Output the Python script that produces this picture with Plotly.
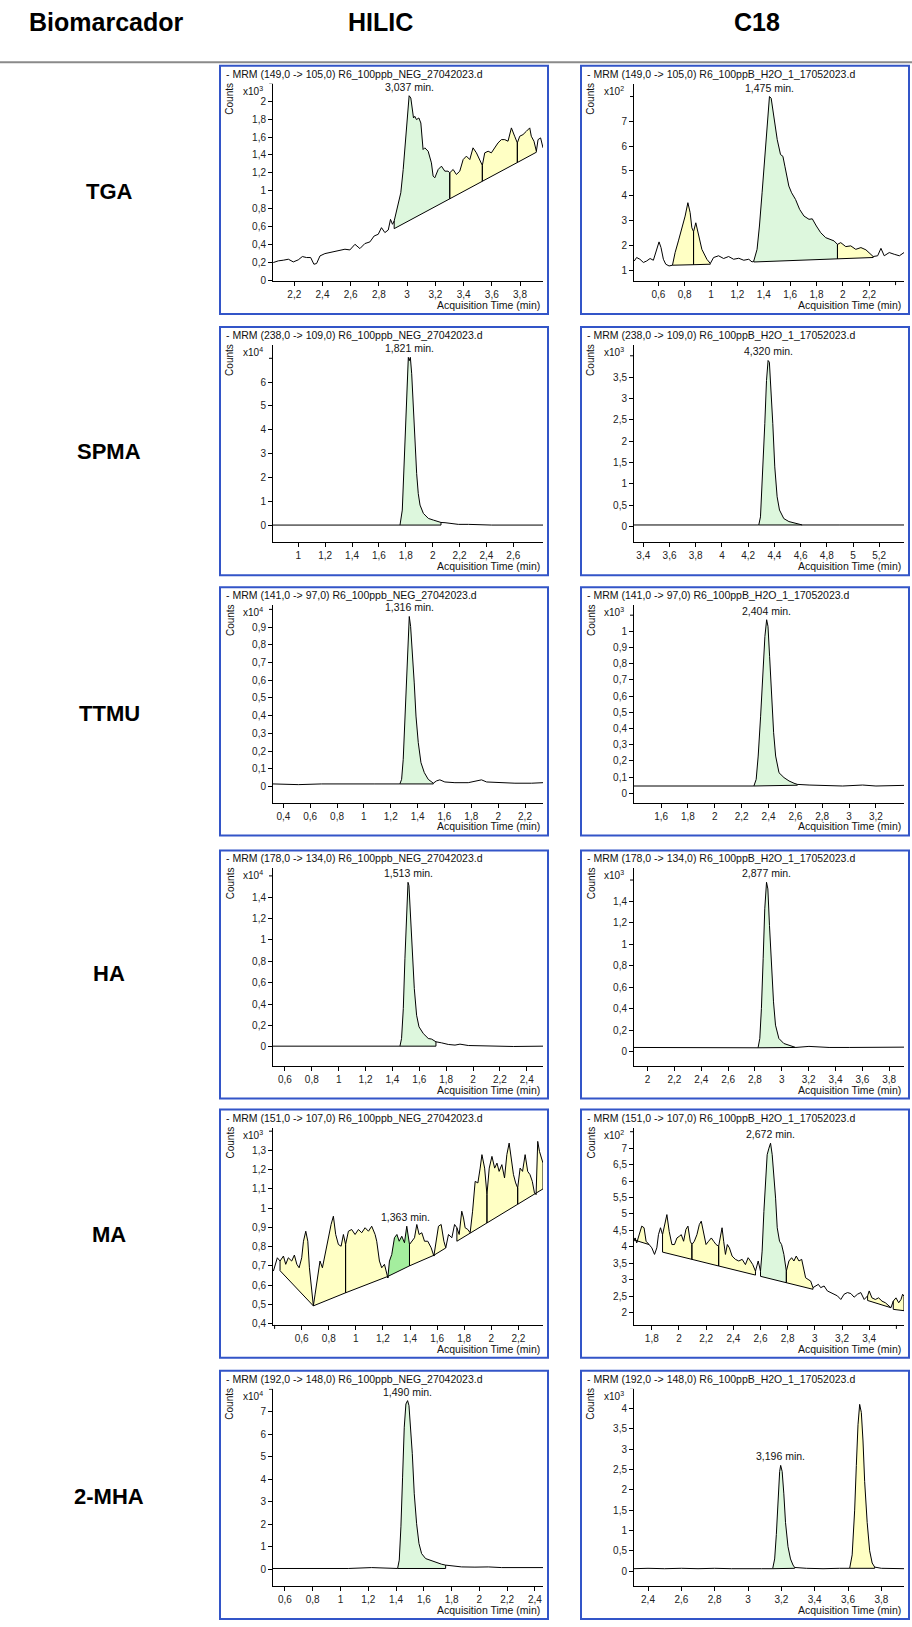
import plotly.graph_objects as go

W, H = 912, 1627

# ---------------- text content ----------------
header_texts = ["Biomarcador", "HILIC", "C18"]
biomarkers = ["TGA", "SPMA", "TTMU", "HA", "MA", "2-MHA"]
transitions = ["149,0 -> 105,0", "238,0 -> 109,0", "141,0 -> 97,0",
               "178,0 -> 134,0", "151,0 -> 107,0", "192,0 -> 148,0"]
files = ["R6_100ppb_NEG_27042023.d", "R6_100ppB_H2O_1_17052023.d"]
exponents = ["3", "2", "4", "3", "4", "3", "4", "3", "3", "2", "4", "3"]
peak_labels = ["3,037 min.", "1,475 min.", "1,821 min.", "4,320 min.", "1,316 min.", "2,404 min.",
               "1,513 min.", "2,877 min.", "1,363 min.", "2,672 min.", "1,490 min.", "3,196 min."]
peak_t = [3.014, 1.443, 1.826, 4.352, 1.338, 2.386, 1.516, 2.886, 1.363, 2.674, 1.483, 3.196]
peak_y = [2.063, 8.00, 7.04, 3.89, 0.960, 1.072, 1.540, 1.579, 0.906, 7.15, 7.49, 2.60]

# ---------------- chromatogram data (time min, counts x10^n) ----------------
tga_hilic_t = [2.051, 2.087, 2.122, 2.158, 2.193, 2.228, 2.257, 2.287, 2.316, 2.339,
               2.358, 2.382, 2.417, 2.453, 2.488, 2.523, 2.559, 2.594, 2.630, 2.665,
               2.700, 2.736, 2.766, 2.795, 2.818, 2.842, 2.866, 2.882, 2.896, 2.908,
               2.925, 2.936, 2.955, 2.972, 2.988, 3.002, 3.014, 3.026, 3.035, 3.045,
               3.054, 3.066, 3.083, 3.097, 3.113, 3.125, 3.149, 3.172, 3.184, 3.196,
               3.220, 3.243, 3.267, 3.290, 3.302, 3.326, 3.349, 3.373, 3.397, 3.420,
               3.444, 3.467, 3.491, 3.515, 3.533, 3.550, 3.574, 3.597, 3.621, 3.644,
               3.668, 3.692, 3.715, 3.739, 3.762, 3.781, 3.798, 3.821, 3.845, 3.869,
               3.880, 3.899, 3.916, 3.928, 3.946, 3.963]
tga_hilic_y = [0.197, 0.216, 0.223, 0.234, 0.204, 0.227, 0.264, 0.253, 0.253, 0.178,
               0.186, 0.271, 0.297, 0.309, 0.316, 0.327, 0.346, 0.338, 0.401, 0.353,
               0.409, 0.428, 0.494, 0.513, 0.587, 0.532, 0.561, 0.680, 0.625, 0.662,
               0.773, 0.829, 0.978, 1.238, 1.535, 1.833, 2.063, 2.037, 1.944, 1.814,
               1.833, 1.796, 1.814, 1.758, 1.461, 1.480, 1.442, 1.312, 1.164, 1.145,
               1.238, 1.275, 1.219, 1.219, 1.201, 1.238, 1.182, 1.219, 1.349, 1.387,
               1.349, 1.480, 1.424, 1.349, 1.283, 1.424, 1.442, 1.424, 1.480, 1.535,
               1.572, 1.572, 1.554, 1.703, 1.610, 1.535, 1.610, 1.628, 1.665, 1.703,
               1.610, 1.554, 1.442, 1.572, 1.591, 1.480]
tga_hilic_regions = [(2.908, 3.302, 0.576, 0.910, "g"), (3.302, 3.533, 0.910, 1.106, "y"),
                     (3.533, 3.781, 1.106, 1.316, "y"), (3.781, 3.916, 1.316, 1.431, "y")]

tga_c18_t = [0.417, 0.435, 0.460, 0.486, 0.511, 0.537, 0.562, 0.587, 0.605, 0.620,
             0.638, 0.656, 0.681, 0.707, 0.727, 0.752, 0.778, 0.803, 0.824, 0.841,
             0.854, 0.867, 0.884, 0.897, 0.930, 0.968, 0.994, 1.019, 1.057, 1.095,
             1.133, 1.171, 1.210, 1.248, 1.286, 1.311, 1.324, 1.349, 1.367, 1.387,
             1.408, 1.425, 1.443, 1.456, 1.476, 1.502, 1.527, 1.545, 1.560, 1.590,
             1.611, 1.641, 1.672, 1.705, 1.743, 1.768, 1.799, 1.832, 1.870, 1.908,
             1.933, 1.959, 1.984, 2.022, 2.060, 2.098, 2.137, 2.175, 2.213, 2.230,
             2.264, 2.289, 2.314, 2.352, 2.390, 2.429, 2.464]
tga_c18_y = [1.37, 1.51, 1.44, 1.31, 1.37, 1.47, 1.40, 1.78, 2.14, 1.91,
             1.44, 1.24, 1.17, 1.20, 1.71, 2.18, 2.65, 3.18, 3.72, 3.32,
             2.71, 2.55, 2.91, 2.60, 1.84, 1.44, 1.27, 1.51, 1.58, 1.47,
             1.55, 1.44, 1.48, 1.40, 1.44, 1.33, 1.37, 1.84, 2.78, 4.12,
             5.46, 6.80, 8.00, 7.93, 7.20, 6.26, 5.66, 5.59, 5.19, 4.39,
             4.12, 3.85, 3.45, 3.18, 3.05, 3.07, 2.78, 2.51, 2.31, 2.24,
             2.18, 2.04, 2.11, 1.95, 1.98, 1.84, 1.91, 1.82, 1.64, 1.55,
             1.58, 1.88, 1.58, 1.71, 1.64, 1.58, 1.71]
tga_c18_regions = [(0.707, 0.867, 1.20, 1.22, "y"), (0.867, 0.994, 1.22, 1.24, "y"),
                   (1.324, 1.959, 1.33, 1.457, "g"), (1.959, 2.230, 1.457, 1.51, "y")]

spma_hilic_t = [0.812, 1.200, 1.500, 1.757, 1.774, 1.789, 1.801, 1.811, 1.819, 1.826,
                1.834, 1.844, 1.856, 1.868, 1.881, 1.893, 1.906, 1.931, 1.968, 2.005,
                2.042, 2.062, 2.092, 2.141, 2.191, 2.266, 2.340, 2.377, 2.439, 2.821]
spma_hilic_y = [0.0, 0.0, 0.0, 0.0, 0.63, 2.86, 4.95, 6.62, 7.04, 6.90,
                7.04, 6.35, 4.81, 3.14, 2.16, 1.32, 0.84, 0.49, 0.28, 0.21,
                0.14, 0.11, 0.10, 0.07, 0.03, 0.03, 0.01, 0.03, 0.0, 0.0]
spma_hilic_regions = [(1.757, 2.062, 0.0, 0.0, "g")]

spma_c18_t = [3.329, 3.700, 4.000, 4.281, 4.294, 4.311, 4.327, 4.340, 4.352, 4.362,
              4.373, 4.388, 4.403, 4.421, 4.439, 4.472, 4.511, 4.562, 4.613, 4.900, 5.389]
spma_c18_y = [0.04, 0.04, 0.04, 0.04, 0.23, 1.24, 2.41, 3.42, 3.89, 3.85,
              3.34, 2.41, 1.40, 0.70, 0.39, 0.19, 0.12, 0.08, 0.04, 0.04, 0.04]
spma_c18_regions = [(4.281, 4.613, 0.04, 0.04, "g")]

ttmu_hilic_t = [0.323, 0.512, 0.685, 0.884, 1.082, 1.268, 1.281, 1.293, 1.306, 1.318,
                1.331, 1.338, 1.348, 1.360, 1.375, 1.388, 1.405, 1.425, 1.450, 1.479,
                1.517, 1.541, 1.566, 1.603, 1.678, 1.777, 1.852, 1.876, 1.914, 2.000,
                2.125, 2.249, 2.334]
ttmu_hilic_y = [0.015, 0.011, 0.015, 0.013, 0.015, 0.015, 0.041, 0.154, 0.398, 0.679,
                0.923, 0.960, 0.904, 0.773, 0.585, 0.398, 0.248, 0.135, 0.079, 0.041,
                0.019, 0.032, 0.038, 0.026, 0.022, 0.022, 0.032, 0.038, 0.026, 0.022,
                0.019, 0.019, 0.022]
ttmu_hilic_regions = [(1.268, 1.517, 0.015, 0.015, "g")]

ttmu_c18_t = [1.398, 1.705, 1.954, 2.129, 2.291, 2.308, 2.323, 2.341, 2.358, 2.373,
              2.386, 2.396, 2.408, 2.423, 2.438, 2.453, 2.478, 2.515, 2.553, 2.590,
              2.615, 2.702, 2.852, 2.952, 3.101, 3.200, 3.409]
ttmu_c18_y = [0.045, 0.045, 0.043, 0.041, 0.045, 0.086, 0.230, 0.476, 0.764, 0.969,
              1.072, 1.031, 0.846, 0.600, 0.374, 0.230, 0.127, 0.097, 0.076, 0.062,
              0.055, 0.051, 0.049, 0.045, 0.051, 0.045, 0.049]
ttmu_c18_regions = [(2.291, 2.615, 0.045, 0.050, "g")]

ha_hilic_t = [0.511, 1.071, 1.456, 1.468, 1.481, 1.493, 1.506, 1.516, 1.523, 1.533,
              1.548, 1.563, 1.580, 1.598, 1.630, 1.667, 1.692, 1.724, 1.766, 1.816,
              1.866, 1.903, 1.965, 2.114, 2.275, 2.300, 2.521]
ha_hilic_y = [0.006, 0.006, 0.006, 0.078, 0.358, 0.824, 1.291, 1.540, 1.509, 1.291,
              0.887, 0.545, 0.296, 0.187, 0.124, 0.078, 0.072, 0.047, 0.037, 0.022,
              0.016, 0.025, 0.012, 0.009, 0.009, 0.003, 0.006]
ha_hilic_regions = [(1.456, 1.724, 0.006, 0.006, "g")]

ha_c18_t = [1.899, 2.205, 2.504, 2.823, 2.836, 2.848, 2.861, 2.873, 2.886, 2.896,
            2.908, 2.923, 2.938, 2.953, 2.978, 3.015, 3.065, 3.103, 3.202, 3.352,
            3.502, 3.701, 3.910]
ha_c18_y = [0.040, 0.037, 0.040, 0.037, 0.124, 0.403, 0.867, 1.332, 1.579, 1.517,
            1.177, 0.774, 0.465, 0.248, 0.124, 0.077, 0.056, 0.040, 0.050, 0.040,
            0.040, 0.043, 0.043]
ha_c18_regions = [(2.823, 3.103, 0.037, 0.040, "g")]

ma_hilic_t = [0.391, 0.403, 0.420, 0.440, 0.465, 0.482, 0.501, 0.526, 0.546, 0.564,
              0.581, 0.600, 0.613, 0.630, 0.645, 0.657, 0.674, 0.686, 0.699, 0.718,
              0.735, 0.753, 0.772, 0.797, 0.817, 0.834, 0.851, 0.871, 0.891, 0.908,
              0.924, 0.945, 0.969, 0.994, 1.019, 1.043, 1.068, 1.093, 1.117, 1.142,
              1.154, 1.174, 1.191, 1.211, 1.236, 1.248, 1.265, 1.285, 1.303, 1.320,
              1.339, 1.359, 1.376, 1.396, 1.413, 1.433, 1.450, 1.467, 1.487, 1.507,
              1.531, 1.556, 1.576, 1.590, 1.610, 1.630, 1.650, 1.664, 1.684, 1.709,
              1.729, 1.746, 1.763, 1.782, 1.795, 1.807, 1.827, 1.844, 1.862, 1.881,
              1.901, 1.918, 1.931, 1.951, 1.968, 1.985, 2.005, 2.025, 2.042, 2.058,
              2.078, 2.098, 2.115, 2.132, 2.147, 2.164, 2.180, 2.195, 2.213, 2.231,
              2.250, 2.269, 2.286, 2.303, 2.319, 2.331, 2.343, 2.356, 2.382]
ma_hilic_y = [0.673, 0.708, 0.742, 0.725, 0.751, 0.708, 0.742, 0.725, 0.756, 0.708,
              0.690, 0.742, 0.828, 0.880, 0.828, 0.690, 0.587, 0.492, 0.553, 0.656,
              0.725, 0.690, 0.759, 0.863, 0.915, 0.958, 0.863, 0.811, 0.802, 0.863,
              0.811, 0.880, 0.889, 0.863, 0.889, 0.872, 0.898, 0.880, 0.906, 0.863,
              0.828, 0.725, 0.690, 0.708, 0.638, 0.725, 0.759, 0.846, 0.863, 0.828,
              0.854, 0.820, 0.906, 0.811, 0.828, 0.846, 0.915, 0.863, 0.872, 0.828,
              0.828, 0.794, 0.751, 0.811, 0.906, 0.915, 0.828, 0.794, 0.863, 0.846,
              0.915, 0.898, 0.863, 0.984, 0.949, 0.898, 0.889, 0.872, 0.984, 1.139,
              1.131, 1.208, 1.278, 1.208, 1.070, 1.208, 1.269, 1.208, 1.234, 1.191,
              1.226, 1.157, 1.278, 1.338, 1.252, 1.174, 1.131, 1.105, 1.208, 1.191,
              1.278, 1.191, 1.174, 1.139, 1.079, 1.070, 1.347, 1.295, 1.234]
ma_hilic_regions = [(0.440, 0.686, 0.675, 0.492, "y"), (0.686, 0.924, 0.492, 0.560, "y"),
                    (0.924, 1.236, 0.560, 0.645, "y"), (1.236, 1.396, 0.645, 0.700, "G"),
                    (1.396, 1.576, 0.700, 0.755, "y"), (1.576, 1.664, 0.755, 0.793, "y"),
                    (1.746, 1.968, 0.828, 0.923, "y"), (1.968, 2.195, 0.923, 1.020, "y"),
                    (2.195, 2.382, 1.020, 1.100, "y")]

ma_c18_t = [1.669, 1.677, 1.689, 1.706, 1.726, 1.743, 1.758, 1.780, 1.800, 1.820,
            1.837, 1.849, 1.864, 1.879, 1.894, 1.911, 1.928, 1.948, 1.967, 1.985,
            2.002, 2.017, 2.034, 2.051, 2.066, 2.083, 2.095, 2.113, 2.132, 2.150,
            2.164, 2.182, 2.199, 2.218, 2.238, 2.255, 2.273, 2.292, 2.305, 2.317,
            2.329, 2.342, 2.356, 2.371, 2.391, 2.415, 2.440, 2.465, 2.489, 2.509,
            2.526, 2.543, 2.563, 2.583, 2.600, 2.612, 2.625, 2.637, 2.649, 2.662,
            2.674, 2.686, 2.698, 2.711, 2.723, 2.740, 2.755, 2.772, 2.790, 2.809,
            2.829, 2.846, 2.863, 2.883, 2.903, 2.920, 2.932, 2.950, 2.969, 2.986,
            3.006, 3.026, 3.043, 3.068, 3.092, 3.117, 3.141, 3.166, 3.191, 3.215,
            3.240, 3.265, 3.289, 3.314, 3.338, 3.363, 3.388, 3.400, 3.420, 3.445,
            3.469, 3.494, 3.519, 3.535, 3.560, 3.577, 3.597, 3.617, 3.634, 3.646, 3.656]
ma_c18_y = [4.17, 4.27, 4.12, 4.37, 4.63, 4.58, 4.17, 4.07, 3.97, 3.77,
            3.97, 4.37, 4.58, 4.37, 4.68, 4.98, 4.47, 4.07, 4.07, 4.27,
            4.32, 4.37, 4.17, 4.53, 4.63, 4.17, 4.07, 4.17, 4.37, 4.68,
            4.78, 4.37, 4.07, 4.17, 4.27, 4.17, 4.07, 4.02, 4.37, 4.58,
            4.17, 3.77, 4.07, 3.97, 3.72, 3.62, 3.57, 3.62, 3.46, 3.67,
            3.57, 3.46, 3.26, 3.57, 3.26, 3.87, 5.08, 6.19, 6.80, 7.00,
            7.15, 6.80, 6.19, 5.48, 4.58, 4.17, 4.07, 3.77, 3.26, 3.57,
            3.67, 3.57, 3.72, 3.57, 3.62, 3.26, 3.06, 3.01, 2.96, 2.76,
            2.81, 2.86, 2.76, 2.81, 2.66, 2.61, 2.56, 2.51, 2.40, 2.56,
            2.61, 2.58, 2.47, 2.56, 2.61, 2.40, 2.51, 2.66, 2.45, 2.40,
            2.45, 2.35, 2.30, 2.25, 2.15, 2.35, 2.45, 2.30, 2.40, 2.56, 2.50]
ma_c18_regions = [(1.677, 1.780, 4.20, 4.07, "y"), (1.879, 2.095, 3.84, 3.62, "y"),
                  (2.095, 2.292, 3.62, 3.418, "y"), (2.292, 2.563, 3.418, 3.142, "y"),
                  (2.600, 2.790, 3.104, 2.910, "g"), (2.790, 2.986, 2.910, 2.71, "y"),
                  (3.388, 3.560, 2.37, 2.15, "y"), (3.577, 3.656, 2.10, 2.06, "y")]

mha_hilic_t = [0.514, 0.800, 1.056, 1.224, 1.296, 1.344, 1.411, 1.423, 1.435, 1.447,
               1.459, 1.471, 1.483, 1.493, 1.502, 1.517, 1.531, 1.548, 1.565, 1.584,
               1.613, 1.644, 1.668, 1.692, 1.728, 1.757, 1.800, 1.872, 1.968, 2.064,
               2.160, 2.256, 2.352, 2.458]
mha_hilic_y = [0.03, 0.03, 0.03, 0.07, 0.06, 0.03, 0.03, 0.40, 1.88, 4.09,
               6.31, 7.34, 7.49, 7.27, 6.60, 5.13, 3.35, 2.02, 1.14, 0.69,
               0.47, 0.40, 0.37, 0.30, 0.22, 0.18, 0.15, 0.10, 0.09, 0.10,
               0.07, 0.07, 0.04, 0.07]
mha_hilic_regions = [(1.411, 1.757, 0.03, 0.03, "g")]

mha_c18_t = [2.316, 2.400, 2.500, 2.600, 2.700, 2.800, 2.900, 3.000, 3.080, 3.148,
             3.160, 3.170, 3.180, 3.190, 3.196, 3.205, 3.215, 3.225, 3.240, 3.255,
             3.270, 3.280, 3.350, 3.450, 3.550, 3.610, 3.625, 3.640, 3.650, 3.660,
             3.670, 3.680, 3.690, 3.700, 3.715, 3.730, 3.745, 3.760, 3.800, 3.850, 3.936]
mha_c18_y = [0.06, 0.07, 0.06, 0.07, 0.06, 0.07, 0.06, 0.07, 0.06, 0.06,
             0.30, 0.90, 1.80, 2.45, 2.60, 2.45, 1.90, 1.20, 0.60, 0.30,
             0.15, 0.09, 0.07, 0.06, 0.07, 0.07, 0.40, 1.50, 2.60, 3.60,
             4.10, 3.90, 3.20, 2.20, 1.20, 0.50, 0.20, 0.10, 0.07, 0.07, 0.06]
mha_c18_regions = [(3.148, 3.280, 0.06, 0.07, "g"), (3.610, 3.760, 0.07, 0.07, "y")]

series_t = [tga_hilic_t, tga_c18_t, spma_hilic_t, spma_c18_t, ttmu_hilic_t, ttmu_c18_t,
            ha_hilic_t, ha_c18_t, ma_hilic_t, ma_c18_t, mha_hilic_t, mha_c18_t]
series_y = [tga_hilic_y, tga_c18_y, spma_hilic_y, spma_c18_y, ttmu_hilic_y, ttmu_c18_y,
            ha_hilic_y, ha_c18_y, ma_hilic_y, ma_c18_y, mha_hilic_y, mha_c18_y]
series_regions = [tga_hilic_regions, tga_c18_regions, spma_hilic_regions, spma_c18_regions,
                  ttmu_hilic_regions, ttmu_c18_regions, ha_hilic_regions, ha_c18_regions,
                  ma_hilic_regions, ma_c18_regions, mha_hilic_regions, mha_c18_regions]

# ---------------- axes ----------------
x_ranges = [[2.049, 3.963], [0.415, 2.464], [0.812, 2.821], [3.329, 5.389],
            [0.323, 2.334], [1.398, 3.409], [0.511, 2.521], [1.899, 3.910],
            [0.388, 2.382], [1.669, 3.656], [0.514, 2.458], [2.316, 3.936]]
y_ranges = [[-0.011, 2.197], [0.558, 8.515], [-0.724, 7.561], [-0.366, 4.254],
            [-0.090, 1.024], [-0.057, 1.162], [-0.177, 1.671], [-0.130, 1.709],
            [0.393, 1.419], [1.627, 7.627], [-0.753, 8.019], [-0.368, 4.485]]
x_tick_spec = [(2.2, 3.8, 0.2), (0.6, 2.2, 0.2), (1.0, 2.6, 0.2), (3.4, 5.2, 0.2),
               (0.4, 2.2, 0.2), (1.6, 3.2, 0.2), (0.6, 2.4, 0.2), (2.0, 3.8, 0.2),
               (0.6, 2.2, 0.2), (1.8, 3.4, 0.2), (0.6, 2.4, 0.2), (2.4, 3.8, 0.2)]
x_bare_ticks = [[], [2.4], [], [], [], [], [], [], [0.4], [3.6], [], []]
y_tick_spec = [(0, 2.0, 0.2), (1, 7, 1), (0, 6, 1), (0, 3.5, 0.5), (0, 0.9, 0.1), (0, 1.0, 0.1),
               (0, 1.4, 0.2), (0, 1.4, 0.2), (0.4, 1.3, 0.1), (2, 7.0, 0.5), (0, 7, 1), (0, 4.0, 0.5)]
y_top_tick = [2.2, 8, 7, 4.0, 1.0, 1.1, 1.6, 1.6, 1.4, 7.5, 8, 4.5]

# ---------------- geometry / style ----------------
col_left = [220, 581]
col_right = [548, 909]
row_top = [66, 328, 589, 853, 1113, 1375]
panel_h = 249
FONT = "Liberation Sans, Arial, sans-serif"
FILL = {"g": "#DDF7DD", "y": "#FFFFC4", "G": "#A4EE9E"}
BORDER = "#3355C8"


def ticks(a, b, s):
    n = int(round((b - a) / s))
    return [round(a + i * s, 4) for i in range(n + 1)]


def fmt(v):
    s = ("%.2f" % v).rstrip("0").rstrip(".")
    return s.replace(".", ",")


def px(x):
    return x / W


def py(y):
    return 1 - y / H


fig = go.Figure()
shapes = []
annotations = []
layout_axes = {}

for idx in range(12):
    r, c = divmod(idx, 2)
    k = idx + 1
    sfx = "" if k == 1 else str(k)
    L, R = col_left[c], col_right[c]
    T = row_top[r]
    B = T + panel_h
    T_, Y_ = series_t[idx], series_y[idx]
    assert len(T_) == len(Y_), (idx, len(T_), len(Y_))

    def yat(t):
        j = min(range(len(T_)), key=lambda i: abs(T_[i] - t))
        return Y_[j]

    # integration fills
    for (t0, t1, b0, b1, kind) in series_regions[idx]:
        seg = [i for i in range(len(T_)) if t0 - 1e-9 <= T_[i] <= t1 + 1e-9]
        xs = [T_[i] for i in seg] + [t1, t0]
        ys = [Y_[i] for i in seg] + [b1, b0]
        fig.add_trace(go.Scatter(x=xs, y=ys, fill="toself", fillcolor=FILL[kind],
                                 mode="lines", line=dict(width=0, color=FILL[kind]),
                                 xaxis="x" + sfx, yaxis="y" + sfx, hoverinfo="skip"))
    # signal
    fig.add_trace(go.Scatter(x=T_, y=Y_, mode="lines", line=dict(color="#000000", width=1),
                             xaxis="x" + sfx, yaxis="y" + sfx, hoverinfo="skip"))
    # baselines and drop lines
    bx, by = [], []
    for (t0, t1, b0, b1, kind) in series_regions[idx]:
        bx += [t0, t1, None, t0, t0, None, t1, t1, None]
        by += [b0, b1, None, b0, yat(t0), None, b1, yat(t1), None]
    fig.add_trace(go.Scatter(x=bx, y=by, mode="lines", line=dict(color="#000000", width=1),
                             xaxis="x" + sfx, yaxis="y" + sfx, hoverinfo="skip"))

    xt = ticks(*x_tick_spec[idx])
    yt = ticks(*y_tick_spec[idx])

    axis_common = dict(showgrid=False, zeroline=False, showline=True, linecolor="#000000",
                       linewidth=1, ticks="outside", ticklen=4, tickcolor="#000000",
                       tickwidth=1, tickfont=dict(family=FONT, size=10, color="#222222"),
                       fixedrange=True, tickmode="array")
    layout_axes["xaxis" + sfx] = dict(axis_common, domain=[px(L + 53), px(R - 5)],
                                      anchor="y" + sfx, range=x_ranges[idx],
                                      tickvals=xt, ticktext=[fmt(v) for v in xt])
    layout_axes["yaxis" + sfx] = dict(axis_common, domain=[py(T + 216), py(T + 18)],
                                      anchor="x" + sfx, range=y_ranges[idx],
                                      tickvals=yt, ticktext=[fmt(v) for v in yt])

    # unlabeled tick marks
    shapes.append(dict(type="line", xref="paper", yref="y" + sfx, x0=px(L + 49), x1=px(L + 53),
                       y0=y_top_tick[idx], y1=y_top_tick[idx], line=dict(color="#000000", width=1)))
    for v in x_bare_ticks[idx]:
        shapes.append(dict(type="line", xref="x" + sfx, yref="paper", x0=v, x1=v,
                           y0=py(T + 216), y1=py(T + 220), line=dict(color="#000000", width=1)))

    # frame
    shapes.append(dict(type="rect", xref="paper", yref="paper", x0=px(L), x1=px(R),
                       y0=py(B), y1=py(T), line=dict(color=BORDER, width=2),
                       fillcolor="rgba(0,0,0,0)", layer="above"))
    # texts
    title = "- MRM (%s) %s" % (transitions[r], files[c])
    annotations.append(dict(text=title, xref="paper", yref="paper", x=px(L + 4), y=py(T + 8),
                            xanchor="left", yanchor="middle", showarrow=False,
                            font=dict(family=FONT, size=10.5, color="#111111")))
    annotations.append(dict(text="Counts", xref="paper", yref="paper", x=px(L + 10), y=py(T + 33),
                            xanchor="center", yanchor="middle", textangle=-90, showarrow=False,
                            font=dict(family=FONT, size=10, color="#111111")))
    annotations.append(dict(text="x10<sup>%s</sup>" % exponents[idx], xref="paper", yref="paper",
                            x=px(L + 21), y=py(T + 25), xanchor="left", yanchor="middle",
                            showarrow=False, font=dict(family=FONT, size=10, color="#111111")))
    annotations.append(dict(text="Acquisition Time (min)", xref="paper", yref="paper",
                            x=px(R - 6), y=py(T + 240), xanchor="right", yanchor="middle",
                            showarrow=False, font=dict(family=FONT, size=10.5, color="#111111")))
    annotations.append(dict(text=peak_labels[idx], xref="x" + sfx, yref="y" + sfx,
                            x=peak_t[idx], y=peak_y[idx], xanchor="center", yanchor="bottom",
                            yshift=1, showarrow=False,
                            font=dict(family=FONT, size=10.5, color="#111111")))

# header and row labels
header_x = [106, 380, 757]
for txt, hx in zip(header_texts, header_x):
    annotations.append(dict(text="<b>%s</b>" % txt, xref="paper", yref="paper", x=px(hx), y=py(22),
                            xanchor="center", yanchor="middle", showarrow=False,
                            font=dict(family=FONT, size=25, color="#000000")))
row_label_y = [192, 453, 716, 976, 1238, 1501]
for txt, ry in zip(biomarkers, row_label_y):
    annotations.append(dict(text="<b>%s</b>" % txt, xref="paper", yref="paper", x=px(109), y=py(ry),
                            xanchor="center", yanchor="middle", showarrow=False,
                            font=dict(family=FONT, size=22, color="#000000")))
shapes.append(dict(type="line", xref="paper", yref="paper", x0=0, x1=1, y0=py(62.5), y1=py(62.5),
                   line=dict(color="#8A8A8A", width=2)))

fig.update_layout(width=W, height=H, margin=dict(l=0, r=0, t=0, b=0),
                  paper_bgcolor="#FFFFFF", plot_bgcolor="#FFFFFF", showlegend=False,
                  hovermode=False, font=dict(family=FONT), shapes=shapes,
                  annotations=annotations, **layout_axes)

fig.write_html("out.html", config={"displayModeBar": False, "staticPlot": True},
               post_script="document.body.style.margin='0px';document.body.style.overflow='hidden';")
